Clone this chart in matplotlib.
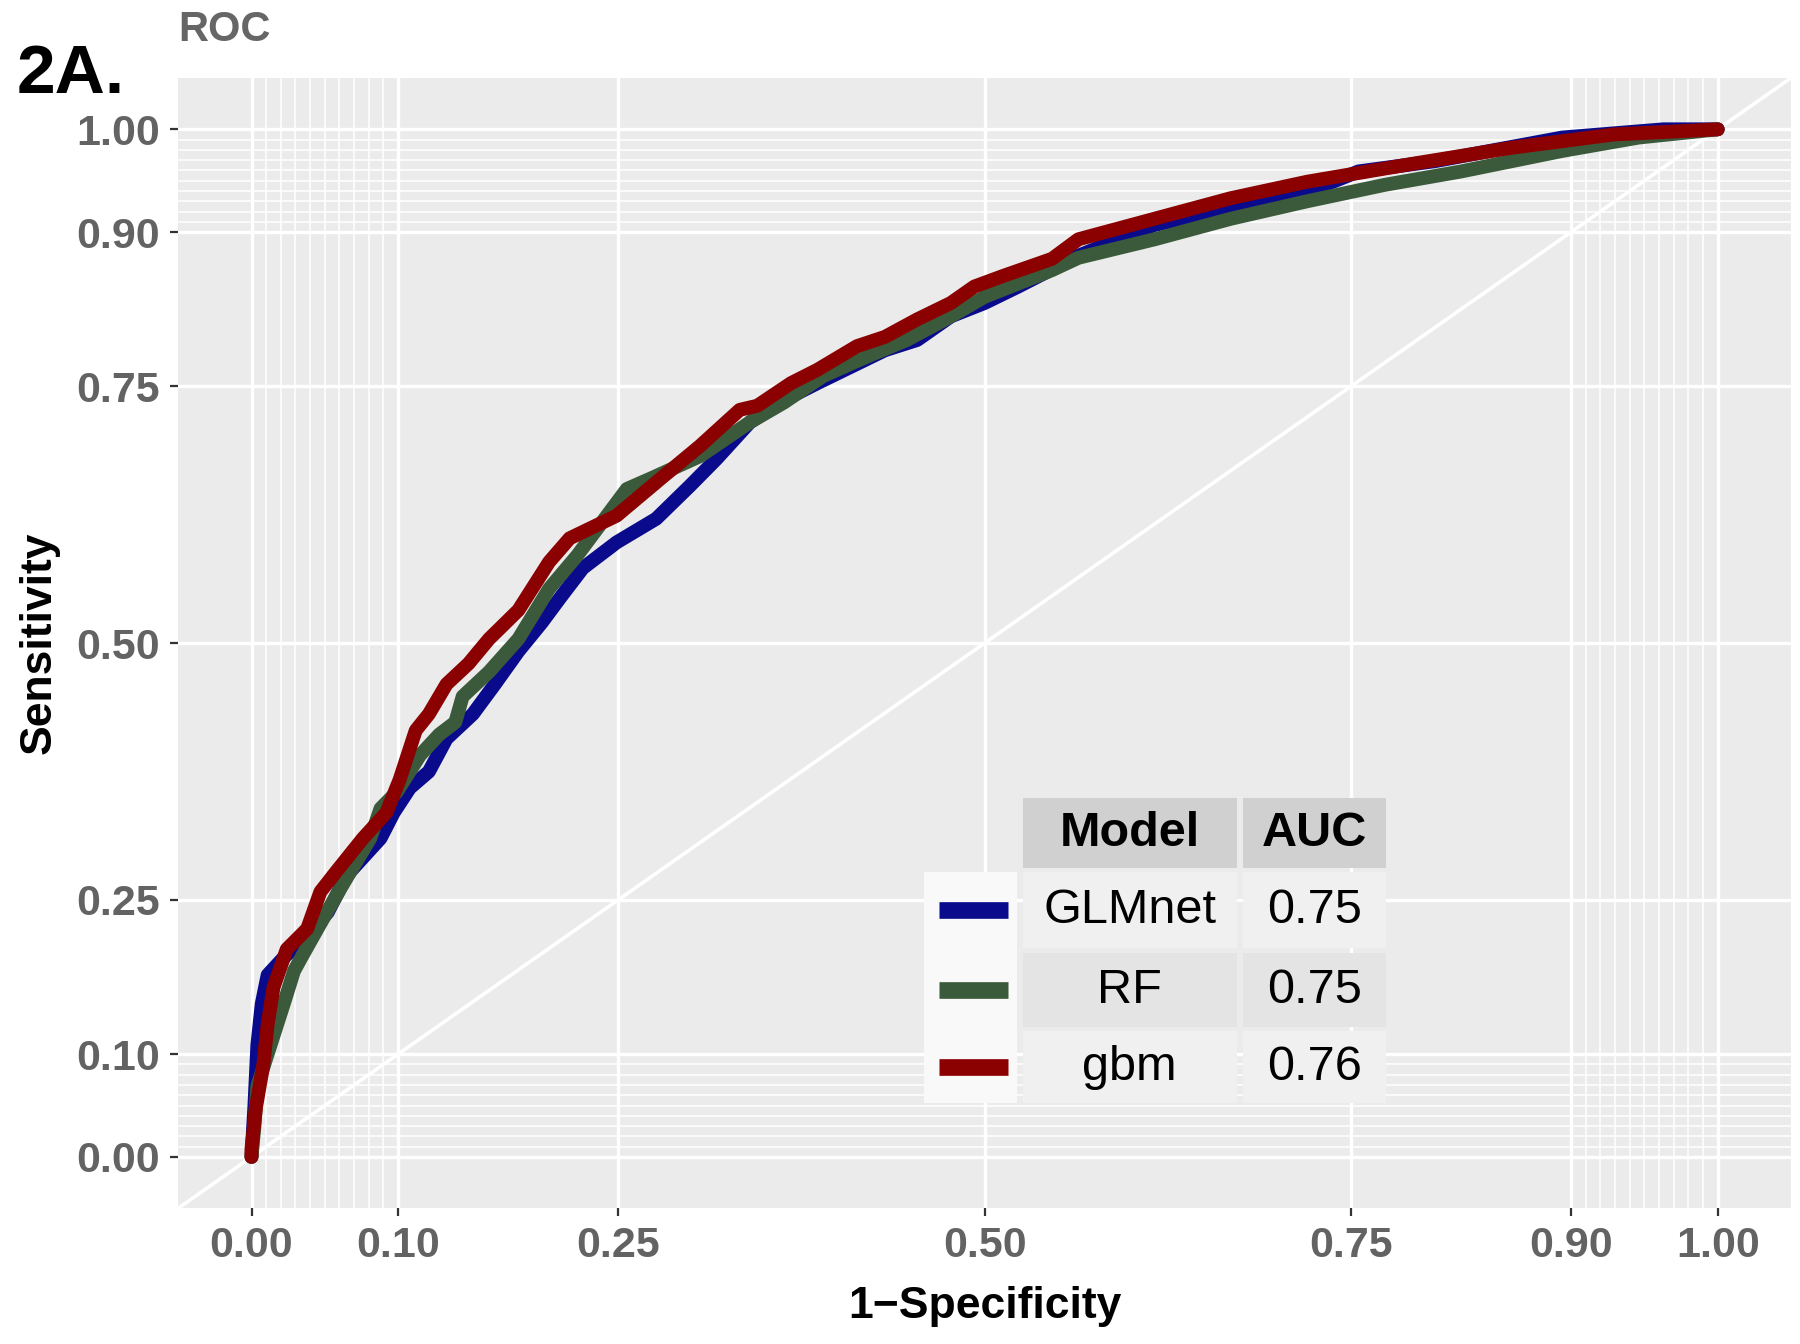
import numpy as np
import matplotlib

matplotlib.use('Agg')
from matplotlib import pyplot as plt
from matplotlib.patches import Rectangle
from matplotlib.lines import Line2D

plt.rcParams['font.family'] = ['Liberation Sans', 'DejaVu Sans']

# ROC curves: 1-specificity (fpr) vs sensitivity (tpr)
glmnet_fpr = [0, 0.002, 0.004, 0.007, 0.011, 0.022, 0.038, 0.052, 0.065, 0.088, 0.097, 0.108,
              0.121, 0.133, 0.151, 0.166, 0.182, 0.198, 0.211, 0.226, 0.249, 0.276, 0.299, 0.317,
              0.340, 0.368, 0.386, 0.409, 0.432, 0.454, 0.477, 0.500, 0.523, 0.564, 0.616, 0.668,
              0.720, 0.755, 0.807, 0.894, 0.963, 1.0]
glmnet_tpr = [0, 0.05, 0.109, 0.149, 0.177, 0.194, 0.215, 0.238, 0.274, 0.310, 0.335, 0.359,
              0.375, 0.407, 0.431, 0.460, 0.492, 0.520, 0.545, 0.573, 0.598, 0.621, 0.653, 0.679,
              0.715, 0.740, 0.753, 0.769, 0.785, 0.795, 0.818, 0.831, 0.847, 0.877, 0.907, 0.923,
              0.939, 0.959, 0.969, 0.992, 1.0, 1.0]

rf_fpr = [0, 0.002, 0.004, 0.013, 0.022, 0.029, 0.034, 0.045, 0.061, 0.081, 0.088, 0.099,
          0.115, 0.128, 0.139, 0.144, 0.162, 0.182, 0.203, 0.222, 0.256, 0.272, 0.306, 0.340,
          0.363, 0.390, 0.420, 0.447, 0.477, 0.500, 0.546, 0.564, 0.616, 0.668, 0.720, 0.773,
          0.825, 0.894, 0.946, 1.0]
rf_tpr = [0, 0.03, 0.069, 0.109, 0.149, 0.181, 0.194, 0.222, 0.262, 0.310, 0.339, 0.355,
          0.391, 0.411, 0.423, 0.448, 0.472, 0.504, 0.553, 0.585, 0.650, 0.660, 0.682, 0.715,
          0.734, 0.760, 0.779, 0.795, 0.818, 0.837, 0.863, 0.875, 0.893, 0.913, 0.930, 0.946,
          0.959, 0.979, 0.992, 1.0]

gbm_fpr = [0, 0.0, 0.003, 0.008, 0.011, 0.015, 0.024, 0.038, 0.047, 0.058, 0.076, 0.092,
           0.101, 0.112, 0.121, 0.133, 0.148, 0.162, 0.182, 0.203, 0.217, 0.249, 0.279, 0.306,
           0.333, 0.345, 0.368, 0.386, 0.413, 0.432, 0.454, 0.477, 0.493, 0.512, 0.546, 0.564,
           0.616, 0.668, 0.720, 0.790, 0.859, 0.929, 1.0]
gbm_tpr = [0, 0.008, 0.048, 0.089, 0.129, 0.165, 0.202, 0.222, 0.258, 0.278, 0.310, 0.335,
           0.367, 0.415, 0.431, 0.460, 0.480, 0.504, 0.532, 0.579, 0.602, 0.624, 0.660, 0.692,
           0.727, 0.731, 0.753, 0.766, 0.789, 0.798, 0.815, 0.831, 0.847, 0.857, 0.874, 0.893,
           0.913, 0.933, 0.949, 0.966, 0.982, 0.995, 1.0]

models = ['GLMnet', 'RF', 'gbm']
auc_values = ['0.75', '0.75', '0.76']
colors = ['#0a0a8c', '#3b5a3b', '#8b0000']
curves = [(glmnet_fpr, glmnet_tpr), (rf_fpr, rf_tpr), (gbm_fpr, gbm_tpr)]

major_breaks = [0, 0.1, 0.25, 0.5, 0.75, 0.9, 1.0]
tick_labels = ['0.00', '0.10', '0.25', '0.50', '0.75', '0.90', '1.00']
minor_breaks = [0.01 * i for i in range(1, 10)] + [0.9 + 0.01 * i for i in range(1, 10)]

fig = plt.figure(figsize=(18, 13.44), dpi=100)
ax = fig.add_axes([0.099, 0.101, 0.896, 0.841])
ax.set_facecolor('#ebebeb')
for s in ax.spines.values():
    s.set_visible(False)

ax.set_xlim(-0.05, 1.05)
ax.set_ylim(-0.05, 1.05)
ax.set_xticks(major_breaks)
ax.set_xticklabels(tick_labels)
ax.set_yticks(major_breaks)
ax.set_yticklabels(tick_labels)
ax.set_xticks(minor_breaks, minor=True)
ax.set_yticks(minor_breaks, minor=True)
ax.grid(which='major', color='white', lw=2.4, zorder=0)
ax.grid(which='minor', color='white', lw=1.1, zorder=0)
ax.set_axisbelow(True)
ax.tick_params(which='major', length=6, width=1.6, color='#333333', pad=7,
               labelsize=31, labelcolor='#636363')
ax.tick_params(which='minor', length=0)
for lab in ax.get_xticklabels() + ax.get_yticklabels():
    lab.set_fontweight('bold')

# reference diagonal
ax.axline((0, 0), (1, 1), color='white', lw=2.6, zorder=1)

for (fx, ty), c in zip(curves, colors):
    ax.plot(fx, ty, color=c, lw=10, solid_joinstyle='round', solid_capstyle='round', zorder=3)

ax.set_xlabel('1\u2212Specificity', fontsize=32, fontweight='bold', labelpad=14)
ax.set_ylabel('Sensitivity', fontsize=32, fontweight='bold', labelpad=12)

fig.text(0.099, 0.978, 'ROC', fontsize=30, fontweight='bold', color='#666666',
         ha='left', va='center')
fig.text(0.009, 0.944, '2A.', fontsize=50, fontweight='bold', color='black',
         ha='left', va='center')

# legend table (axes fraction)
key_x0, key_x1 = 0.4627, 0.5200
col_x = [(0.5236, 0.6564), (0.6600, 0.7491)]
header_y = (0.3009, 0.3627)
row_y = [(0.2300, 0.2973), (0.1600, 0.2255), (0.0927, 0.1564)]
row_bg = ['#f0f0f0', '#e4e4e4', '#f0f0f0']
tr = ax.transAxes

ax.add_patch(Rectangle((key_x0, row_y[-1][0]), key_x1 - key_x0, row_y[0][1] - row_y[-1][0],
                       transform=tr, facecolor='#f9f9f9', edgecolor='none', zorder=5))
for (x0, x1), txt in zip(col_x, ['Model', 'AUC']):
    ax.add_patch(Rectangle((x0, header_y[0]), x1 - x0, header_y[1] - header_y[0], transform=tr,
                           facecolor='#d0d0d0', edgecolor='none', zorder=5))
    ax.text((x0 + x1) / 2, sum(header_y) / 2, txt, transform=tr, ha='center', va='center',
            fontsize=35, fontweight='bold', zorder=6)
for (y0, y1), bg, m, a, c in zip(row_y, row_bg, models, auc_values, colors):
    for (x0, x1), txt in zip(col_x, [m, a]):
        ax.add_patch(Rectangle((x0, y0), x1 - x0, y1 - y0, transform=tr,
                               facecolor=bg, edgecolor='none', zorder=5))
        ax.text((x0 + x1) / 2, (y0 + y1) / 2, txt, transform=tr, ha='center', va='center',
                fontsize=35, zorder=6)
    ax.add_line(Line2D([0.4718, 0.5145], [(y0 + y1) / 2] * 2, transform=tr, color=c,
                       lw=12, solid_capstyle='butt', zorder=6))

fig.savefig('out.png', dpi=100, facecolor='white')
